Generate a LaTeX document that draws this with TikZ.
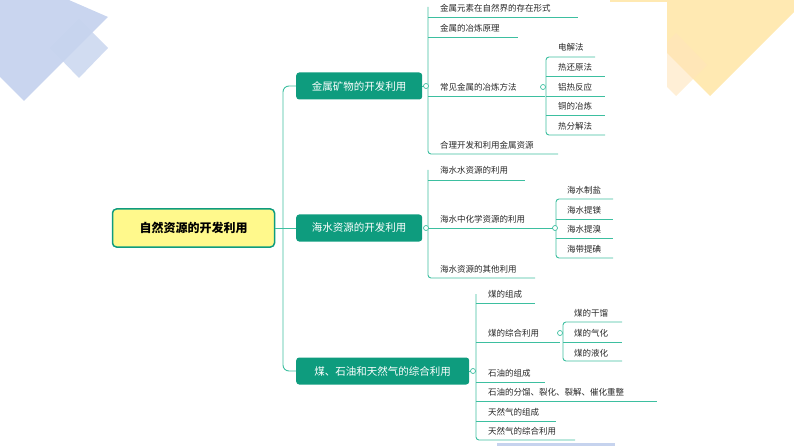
\documentclass[tikz,border=0pt]{standalone}
\usepackage{fontspec}
\newfontfamily\cjk{Noto Sans CJK SC}
\definecolor{teal}{HTML}{0E9C7E}
\definecolor{lnk}{HTML}{3DBFA0}
\definecolor{bl}{HTML}{C6D3EE}
\definecolor{yl}{HTML}{FFE9B2}
\begin{document}
\begin{tikzpicture}[x=1pt,y=-1pt,
  lvl/.style={fill=teal,text=white,rounded corners=3pt,minimum height=27pt,inner xsep=6pt,font=\cjk\fontsize{10.5}{12}\selectfont,anchor=west},
  leaf/.style={anchor=west,inner sep=0pt,font=\cjk\fontsize{8.5}{10}\selectfont,text=black!85},
  ln/.style={draw=lnk,line width=0.9pt},
  dot/.style={circle,draw=lnk,fill=white,inner sep=0pt,minimum size=5pt,line width=0.7pt}]
\useasboundingbox (0,0) rectangle (794,446);
% decorations
\fill[bl,opacity=0.95] (0,-30) -- (108,17) -- (24,101) -- (0,77) -- cycle;
\fill[bl,opacity=0.8] (79,19) -- (108,48) -- (79,78) -- (50,48) -- cycle;
\begin{scope}
\clip (667,0) rectangle (794,110);
\fill[yl] (667,-40) -- (794,-40) -- (794,12) -- (710,96) -- (667,53) -- cycle;
\fill[yl!80!orange!60,opacity=0.6] (676,33) -- (707,65) -- (676,96) -- (645,65) -- cycle;
\end{scope}
\fill[yl] (610,0) rectangle (667,2);
\fill[bl] (497,443) rectangle (615,446);
% root
\node[draw=teal,line width=1.5pt,fill=yellow!45,rounded corners=4pt,minimum width=162pt,minimum height=38pt,font=\cjk\bfseries\fontsize{12}{14}\selectfont] (root) at (193.5,228) {自然资源的开发利用};
\node[lvl,minimum width=126pt] (a) at (296,86) {金属矿物的开发利用};
\node[lvl,minimum width=126pt] (b) at (296,228) {海水资源的开发利用};
\node[lvl,minimum width=173pt] (c) at (296,371) {煤、石油和天然气的综合利用};
\draw[ln,rounded corners=6pt] (a.west) -- (283,86) -- (283,371) -- (c.west);
\draw[ln] (root.east) -- (b.west);
% group 1
\draw[ln] (a.east) -- (428,86);
\draw[ln,rounded corners=3pt] (428,7) -- (428,154) -- (558,154);
\foreach \t/\y/\e in {金属元素在自然界的存在形式/17/578,金属的冶炼原理/37/518,常见金属的冶炼方法/96/545}
  \draw[ln] (428,\y) -- (\e,\y);
\node[leaf] (a1) at (440,8) {金属元素在自然界的存在形式};
\node[leaf] (a2) at (440,28) {金属的冶炼原理};
\node[leaf] (a3) at (440,87) {常见金属的冶炼方法};
\node[leaf] (a4) at (440,145) {合理开发和利用金属资源};
\node[dot] at (426,86) {};
\draw[ln,rounded corners=3pt] (595,57) -- (546,57) -- (546,135) -- (605,135);
\foreach \y in {76,96,115} \draw[ln] (546,\y) -- (605,\y);
\node[dot] at (543,87) {};
\node[leaf] at (558,47) {电解法};
\node[leaf] at (558,67) {热还原法};
\node[leaf] at (558,87) {铝热反应};
\node[leaf] at (558,106) {铜的冶炼};
\node[leaf] at (558,126) {热分解法};
% group 2
\draw[ln,rounded corners=3pt] (428,170) -- (428,278) -- (535,278);
\draw[ln] (428,180) -- (525,180);
\draw[ln] (428,228) -- (553,228);
\node[dot] at (426,228) {};
\node[leaf] at (440,170) {海水水资源的利用};
\node[leaf] at (440,219) {海水中化学资源的利用};
\node[leaf] at (440,269) {海水资源的其他利用};
\draw[ln,rounded corners=3pt] (613,199) -- (556,199) -- (556,258) -- (613,258);
\foreach \y in {219,238} \draw[ln] (556,\y) -- (613,\y);
\node[dot] at (555,228) {};
\node[leaf] at (567,190) {海水制盐};
\node[leaf] at (567,210) {海水提镁};
\node[leaf] at (567,229) {海水提溴};
\node[leaf] at (567,249) {海带提碘};
% group 3
\draw[ln] (c.east) -- (476,371);
\draw[ln,rounded corners=3pt] (476,294) -- (476,440) -- (575,440);
\foreach \y/\e in {303/535,342/560,382/545,401/657,421/556} \draw[ln] (476,\y) -- (\e,\y);
\node[dot] at (473,371) {};
\node[leaf] at (488,294) {煤的组成};
\node[leaf] at (488,333) {煤的综合利用};
\node[leaf] at (488,373) {石油的组成};
\node[leaf] at (488,392) {石油的分馏、裂化、裂解、催化重整};
\node[leaf] at (488,412) {天然气的组成};
\node[leaf] at (488,431) {天然气的综合利用};
\draw[ln,rounded corners=3pt] (622,322) -- (563,322) -- (563,361) -- (622,361);
\draw[ln] (563,342) -- (622,342);
\node[dot] at (560,333) {};
\node[leaf] at (574,313) {煤的干馏};
\node[leaf] at (574,333) {煤的气化};
\node[leaf] at (574,353) {煤的液化};
\end{tikzpicture}
\end{document}
